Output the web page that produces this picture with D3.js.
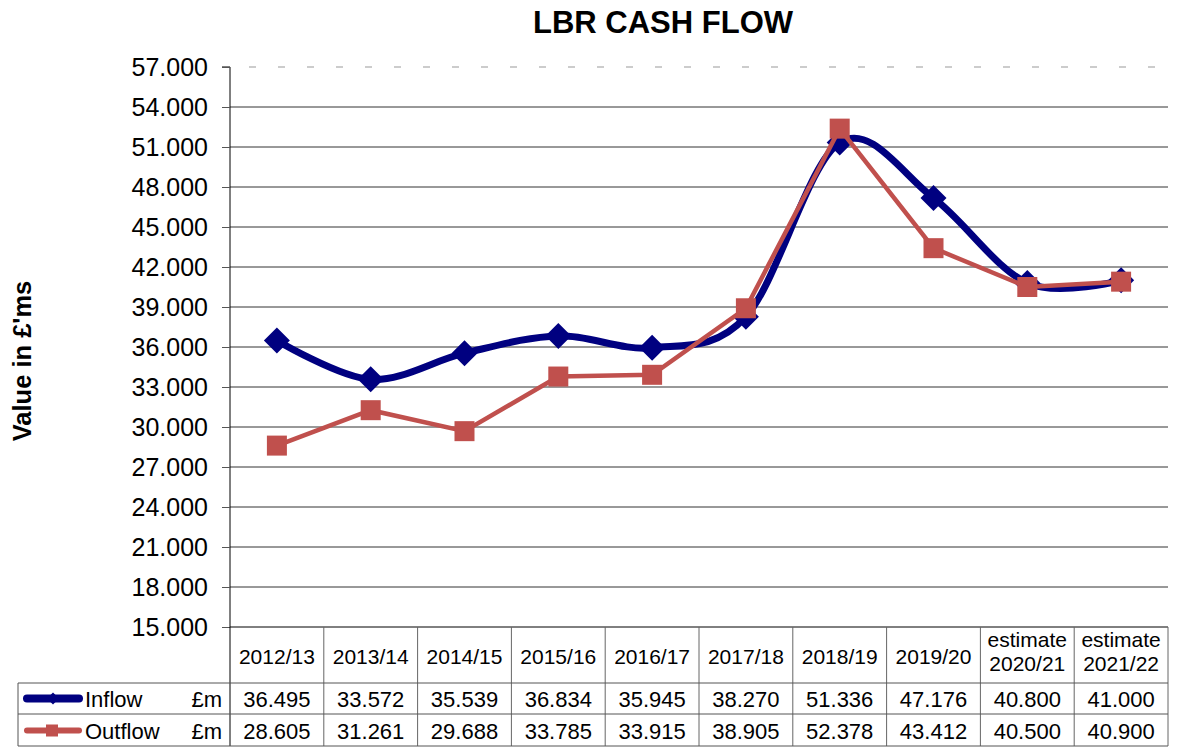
<!DOCTYPE html>
<html><head><meta charset="utf-8">
<script src="https://cdn.jsdelivr.net/npm/d3@7"></script>
<style>body{margin:0;background:#fff}svg{display:block}text{font-family:"Liberation Sans",Arial,sans-serif}</style>
</head><body>
<svg id="c" width="1177" height="749"></svg>
<script>
const categories = ["2012/13","2013/14","2014/15","2015/16","2016/17","2017/18","2018/19","2019/20","estimate\n2020/21","estimate\n2021/22"];
const inflow = [36.495,33.572,35.539,36.834,35.945,38.270,51.336,47.176,40.800,41.000];
const outflow = [28.605,31.261,29.688,33.785,33.915,38.905,52.378,43.412,40.500,40.900];
const yTicks = [15,18,21,24,27,30,33,36,39,42,45,48,51,54,57];
const seriesNames = ["Inflow","Outflow"];
const unitLabel = "£m";

const svg = d3.select("#c");
const L = 230, R = 1168, T = 67, B = 627;
const x = d3.scaleBand().domain(categories).range([L, R]);
const y = d3.scaleLinear().domain([15,57]).range([B, T]);
const fmt = d3.format(".3f");
const diamond = (s) => `M0,${-s}L${s},0L0,${s}L${-s},0Z`;

// title
svg.append("text").attr("x", 663).attr("y", 33).attr("text-anchor","middle")
  .attr("font-size", 31).attr("font-weight","bold").text("LBR CASH FLOW");
// y label
svg.append("text").attr("transform","translate(31,361) rotate(-90)").attr("text-anchor","middle")
  .attr("font-size", 25.5).attr("font-weight","bold").text("Value in £'ms");

// gridlines
yTicks.forEach(t => {
  if (t === 15) return;
  svg.append("line").attr("x1", t === 57 ? L + 19 : L).attr("x2", R).attr("y1", y(t)).attr("y2", y(t))
    .attr("stroke", t === 57 ? "#999" : "#333").attr("stroke-width", 1)
    .attr("stroke-dasharray", t === 57 ? "7,22" : null);
});

// y axis
const yAxis = d3.axisLeft(y).tickValues(yTicks).tickFormat(fmt).tickSize(8).tickPadding(14);
const ga = svg.append("g").attr("transform", `translate(${L},0)`).call(yAxis);
ga.select(".domain").attr("stroke","#000").attr("d", `M-8,${T}H0V${B}`);
ga.selectAll(".tick line").attr("stroke","#555");
ga.selectAll(".tick text").attr("font-size", 25).attr("fill","#000").attr("font-family","Liberation Sans, Arial, sans-serif");

// bottom axis line
svg.append("line").attr("x1", L).attr("x2", R).attr("y1", B).attr("y2", B).attr("stroke","#000");

// table
const hdrB = 683, r1B = 714, r2B = 746, tL = 18;
const gt = svg.append("g");
categories.forEach((c,i) => {
  const xx = x(c) + x.bandwidth();
  gt.append("line").attr("x1", xx).attr("x2", xx).attr("y1", B).attr("y2", r2B).attr("stroke", "#666");
});
gt.append("line").attr("x1", L).attr("x2", L).attr("y1", B).attr("y2", r2B).attr("stroke","#000");
[hdrB, r1B, r2B].forEach(yy => gt.append("line").attr("x1", tL).attr("x2", R).attr("y1", yy).attr("y2", yy).attr("stroke","#555"));
gt.append("line").attr("x1", tL).attr("x2", tL).attr("y1", hdrB).attr("y2", r2B).attr("stroke","#555");

categories.forEach(c => {
  const parts = c.split("\n");
  const cx = x(c) + x.bandwidth()/2;
  const t = gt.append("text").attr("text-anchor","middle").attr("font-size", 21);
  if (parts.length === 1) {
    t.append("tspan").attr("x", cx).attr("y", 664).text(parts[0]);
  } else {
    t.append("tspan").attr("x", cx).attr("y", 647).text(parts[0]);
    t.append("tspan").attr("x", cx).attr("y", 671).text(parts[1]);
  }
});

const rows = [
  {name: seriesNames[0], vals: inflow, color: "#000080", yb: r1B},
  {name: seriesNames[1], vals: outflow, color: "#C0504D", yb: r2B}
];
rows.forEach((r, k) => {
  const cy = r.yb - 15.5;
  r.vals.forEach((v,i) => {
    gt.append("text").attr("x", x(categories[i]) + x.bandwidth()/2).attr("y", cy + 8)
      .attr("text-anchor","middle").attr("font-size", 22).text(fmt(v));
  });
  gt.append("text").attr("x", 85).attr("y", cy + 8).attr("font-size", 22).text(r.name);
  gt.append("text").attr("x", 222).attr("y", cy + 8).attr("text-anchor","end").attr("font-size", 22).text(unitLabel);
  gt.append("line").attr("x1", 27).attr("x2", 79).attr("y1", cy).attr("y2", cy)
    .attr("stroke", r.color).attr("stroke-width", k === 0 ? 8 : 6).attr("stroke-linecap","round");
  if (k === 0) gt.append("path").attr("transform", `translate(53,${cy})`).attr("d", diamond(6)).attr("fill", r.color);
  else gt.append("rect").attr("x", 46).attr("y", cy-6).attr("width", 12).attr("height", 12).attr("fill", r.color);
});

// series
const cx = (i) => x(categories[i]) + x.bandwidth()/2;
const lineIn = d3.line().x((d,i)=>cx(i)).y(d=>y(d)).curve(d3.curveCardinal.tension(0));
const lineOut = d3.line().x((d,i)=>cx(i)).y(d=>y(d));
svg.append("path").attr("d", lineIn(inflow)).attr("fill","none").attr("stroke","#000080").attr("stroke-width",7).attr("stroke-linejoin","round");
inflow.forEach((v,i) => svg.append("path").attr("transform",`translate(${cx(i)},${y(v)})`)
  .attr("d", diamond(13)).attr("fill","#000080"));
svg.append("path").attr("d", lineOut(outflow)).attr("fill","none").attr("stroke","#C0504D").attr("stroke-width",4.5);
outflow.forEach((v,i) => svg.append("rect").attr("x", cx(i)-10).attr("y", y(v)-10).attr("width",20).attr("height",20)
  .attr("fill","#C0504D"));
</script>
</body></html>
